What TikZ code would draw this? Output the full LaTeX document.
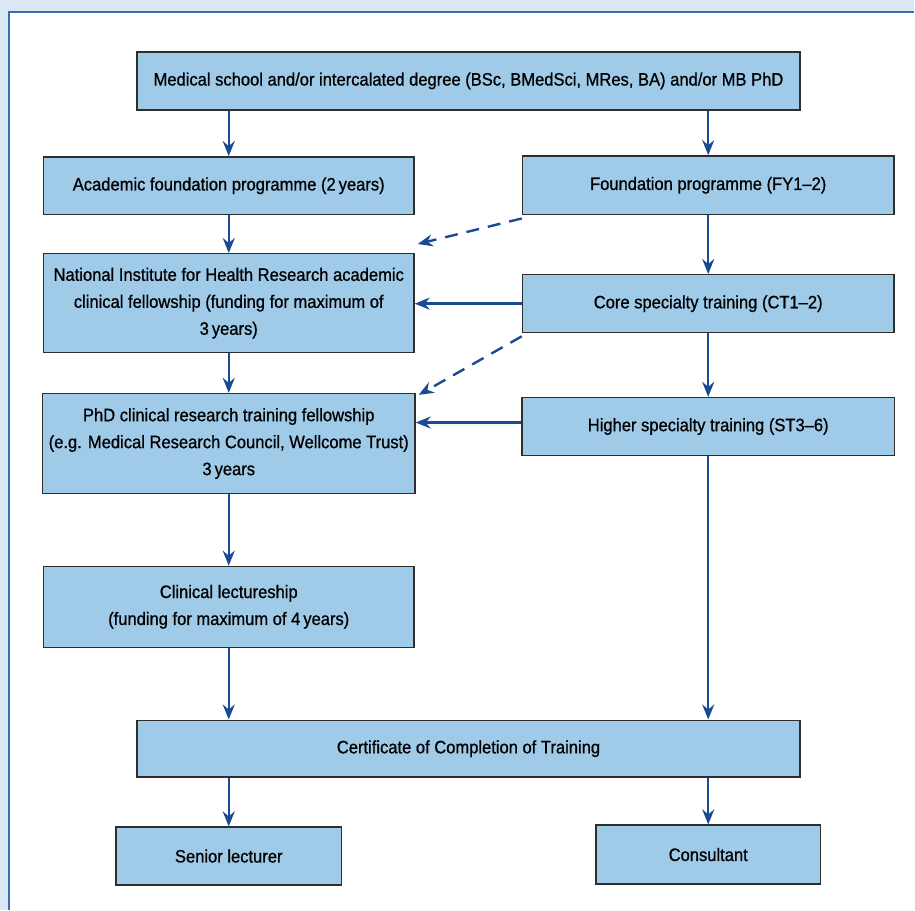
\documentclass[tikz,border=0pt]{standalone}
\usepackage{fontspec}
\setmainfont[FakeStretch=0.92,FakeBold=0.8]{Liberation Sans}
\usetikzlibrary{arrows.meta,calc}
\definecolor{bgblue}{HTML}{DAE8F5}
\definecolor{frameblue}{HTML}{3A6EB0}
\definecolor{boxfill}{HTML}{9FCBE8}
\definecolor{boxline}{HTML}{2E2E2E}
\definecolor{arrblue}{HTML}{1A4A92}
\begin{document}
\begin{tikzpicture}[x=1pt,y=-1pt,
  box/.style={draw=boxline, fill=boxfill, line width=1.4pt, inner sep=0pt, align=center,
    font=\fontsize{18}{27}\selectfont},
  arr/.style={draw=arrblue, line width=2.4pt, -{Stealth[length=15pt,width=12pt,inset=5pt]}},
  darr/.style={arr, dash pattern=on 13pt off 9pt}]
\fill[bgblue] (0,0) rectangle (915,911);
\fill[white] (9,12) rectangle (915,911);
\draw[frameblue, line width=2pt] (9,911) -- (9,12) -- (915,12);
\useasboundingbox (0,0) rectangle (915,911);

\node[box, minimum width=664pt, minimum height=58pt] (b1) at (469,81) {Medical school and/or intercalated degree (BSc, BMedSci, MRes, BA) and/or MB PhD};
\node[box, minimum width=371pt, minimum height=58pt] (b2) at (229,186) {Academic foundation programme (2\,years)};
\node[box, minimum width=372pt, minimum height=59pt] (b3) at (709,185.5) {Foundation programme (FY1–2)};
\node[box, minimum width=371pt, minimum height=99pt] (b4) at (229,303.5) {National Institute for Health Research academic\\clinical fellowship (funding for maximum of\\3\,years)};
\node[box, minimum width=372pt, minimum height=58pt] (b5) at (709,304) {Core specialty training (CT1–2)};
\node[box, minimum width=373pt, minimum height=100pt] (b6) at (229,444) {PhD clinical research training fellowship\\(e.g. Medical Research Council, Wellcome Trust)\\3\,years};
\node[box, minimum width=373pt, minimum height=58pt] (b7) at (709,427) {Higher specialty training (ST3–6)};
\node[box, minimum width=371pt, minimum height=81pt] (b8) at (229,607.5) {Clinical lectureship\\(funding for maximum of 4\,years)};
\node[box, minimum width=664pt, minimum height=57pt] (b9) at (469,749.5) {Certificate of Completion of Training};
\node[box, minimum width=226pt, minimum height=58pt] (b10) at (229,857) {Senior lecturer};
\node[box, minimum width=225pt, minimum height=59pt] (b11) at (709,855.5) {Consultant};

\draw[arr] (b2.north |- b1.south) -- (b2.north);
\draw[arr] (b3.north |- b1.south) -- (b3.north);
\draw[arr] (b2.south) -- (b4.north);
\draw[arr] (b3.south) -- (b5.north);
\draw[arr] (b4.south) -- (b6.north);
\draw[arr] (b5.south) -- (b7.north);
\draw[arr] (b6.south) -- (b8.north);
\draw[arr] (b8.south) -- (b8.south |- b9.north);
\draw[arr] (b7.south) -- (b7.south |- b9.north);
\draw[arr] (b10.north |- b9.south) -- (b10.north);
\draw[arr] (b11.north |- b9.south) -- (b11.north);
\draw[arr] (b5.west) -- (b5.west -| b4.east);
\draw[arr] ([yshift=4pt]b7.west) -- ([yshift=4pt]b7.west -| b6.east);
\draw[darr] ([yshift=-3pt]b3.south west) -- ([shift={(3pt,9pt)}]b4.north east);
\draw[darr] ([yshift=-3pt]b5.south west) -- ([shift={(3pt,-2pt)}]b6.north east);
\end{tikzpicture}
\end{document}
